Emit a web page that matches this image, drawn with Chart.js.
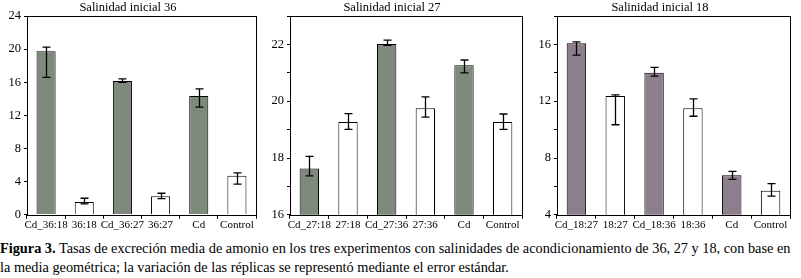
<!DOCTYPE html>
<html>
<head>
<meta charset="utf-8">
<script src="https://cdn.jsdelivr.net/npm/chart.js@4/dist/chart.umd.min.js"></script>
<style>
  body { margin: 0; background: #fff; width: 801px; height: 278px; overflow: hidden; position: relative; }
  .panel { position: absolute; top: 0; height: 232px; }
  .caption {
    position: absolute; left: 0; top: 239px; width: 801px;
    font-family: "Liberation Serif", "Times New Roman", serif; font-size: 14.3px; line-height: 19px;
    color: #000; white-space: nowrap;
  }
</style>
</head>
<body>
<div class="panel" style="left:0;width:260px"><canvas id="c36"></canvas></div>
<div class="panel" style="left:262px;width:264px"><canvas id="c27"></canvas></div>
<div class="panel" style="left:530px;width:265px"><canvas id="c18"></canvas></div>
<div class="caption"><b>Figura 3.</b> Tasas de excreción media de amonio en los tres experimentos con salinidades de acondicionamiento de 36, 27 y 18, con base en<br>la media geométrica; la variación de las réplicas se representó mediante el error estándar.</div>

<script>
const SERIF = '"Liberation Serif", "Times New Roman", serif';

// Salinidad inicial 36
const labels36 = ["Cd_36:18", "36:18", "Cd_36:27", "36:27", "Cd", "Control"];
const mean36 = [19.75, 1.55, 16.15, 2.25, 14.35, 4.7];
const low36 = [16.6, 1.33, 16.0, 1.95, 13.0, 3.7];
const high36 = [20.25, 2.0, 16.4, 2.6, 15.2, 5.05];

// Salinidad inicial 27
const labels27 = ["Cd_27:18", "27:18", "Cd_27:36", "27:36", "Cd", "Control"];
const mean27 = [17.63, 19.27, 22.01, 19.75, 21.27, 19.27];
const low27 = [17.37, 19.01, 21.97, 19.44, 21.0, 19.01];
const high27 = [18.06, 19.56, 22.15, 20.15, 21.45, 19.55];

// Salinidad inicial 18
const labels18 = ["Cd_18:27", "18:27", "Cd_18:36", "18:36", "Cd", "Control"];
const mean18 = [16.08, 12.37, 14.0, 11.5, 6.78, 5.7];
const low18 = [15.24, 10.34, 13.76, 10.94, 6.49, 5.32];
const high18 = [16.18, 12.44, 14.38, 12.16, 7.06, 6.2];

// box around the plot area
const frame = {
    id: "frame",
    afterDraw(chart) {
        const a = chart.chartArea;
        const c = chart.ctx;
        c.save();
        c.strokeStyle = "#000";
        c.lineWidth = 1;
        c.strokeRect(Math.round(a.left) + 0.5, Math.round(a.top) + 0.5,
            Math.round(a.right - a.left), Math.round(a.bottom - a.top));
        c.restore();
    },
};

// asymmetric error bars (geometric mean +/- s.e.)
const errorBars = {
    id: "errorBars",
    afterDatasetsDraw(chart) {
        const ds = chart.data.datasets[0];
        const meta = chart.getDatasetMeta(0);
        const y = chart.scales.y;
        const c = chart.ctx;
        c.save();
        c.strokeStyle = "#000";
        c.lineWidth = 1.3;
        meta.data.forEach((bar, i) => {
            const x = Math.round(bar.x) + 0.5;
            const yl = y.getPixelForValue(ds.errLow[i]);
            const yh = y.getPixelForValue(ds.errHigh[i]);
            c.beginPath();
            c.moveTo(x, yl); c.lineTo(x, yh);
            c.moveTo(x - 4, yl); c.lineTo(x + 4, yl);
            c.moveTo(x - 4, yh); c.lineTo(x + 4, yh);
            c.stroke();
        });
        c.restore();
    },
};

function makePanel(id, title, labels, mean, low, high, cdColor, yMin, yMax, minorStep, axisWidth, padRight) {
    const colors = labels.map((l) => (l.startsWith("Cd") ? cdColor : "#ffffff"));
    return new Chart(document.getElementById(id), {
        type: "bar",
        data: {
            labels: labels,
            datasets: [{
                data: mean,
                errLow: low,
                errHigh: high,
                backgroundColor: colors,
                borderColor: "#000",
                borderWidth: 1,
                borderSkipped: "bottom",
                barPercentage: 0.5,
                categoryPercentage: 1,
            }],
        },
        options: {
            responsive: true,
            maintainAspectRatio: false,
            animation: false,
            layout: { padding: { left: 0, right: padRight, top: 0, bottom: 0 } },
            plugins: {
                legend: { display: false },
                tooltip: { enabled: false },
                title: {
                    display: true,
                    text: title,
                    color: "#000",
                    font: { family: SERIF, size: 12.5, weight: "normal" },
                    padding: { top: 0, bottom: 1 },
                },
            },
            scales: {
                x: {
                    border: { display: false },
                    grid: { drawOnChartArea: false, tickLength: 4, color: "#000" },
                    ticks: {
                        color: "#000",
                        autoSkip: false,
                        maxRotation: 0,
                        padding: 0,
                        font: { family: SERIF, size: 11 },
                    },
                },
                y: {
                    min: yMin,
                    max: yMax,
                    border: { display: false },
                    grid: { drawOnChartArea: false, tickLength: 3, color: "#000" },
                    ticks: {
                        stepSize: minorStep,
                        color: "#000",
                        padding: 3,
                        font: { family: SERIF, size: 12.5 },
                        callback: (v) => ((v - yMin) % (minorStep * 2) === 0 ? v : ""),
                    },
                    afterFit: (scale) => { scale.width = axisWidth; },
                },
            },
        },
        plugins: [errorBars, frame],
    });
}

makePanel("c36", "Salinidad inicial 36", labels36, mean36, low36, high36, "#7e8a7c", 0, 24, 2, 27, 4);
makePanel("c27", "Salinidad inicial 27", labels27, mean27, low27, high27, "#7e8a7c", 16, 23, 1, 28, 4);
makePanel("c18", "Salinidad inicial 18", labels18, mean18, low18, high18, "#8c7e8c", 4, 18, 2, 27, 5);
</script>
</body>
</html>
